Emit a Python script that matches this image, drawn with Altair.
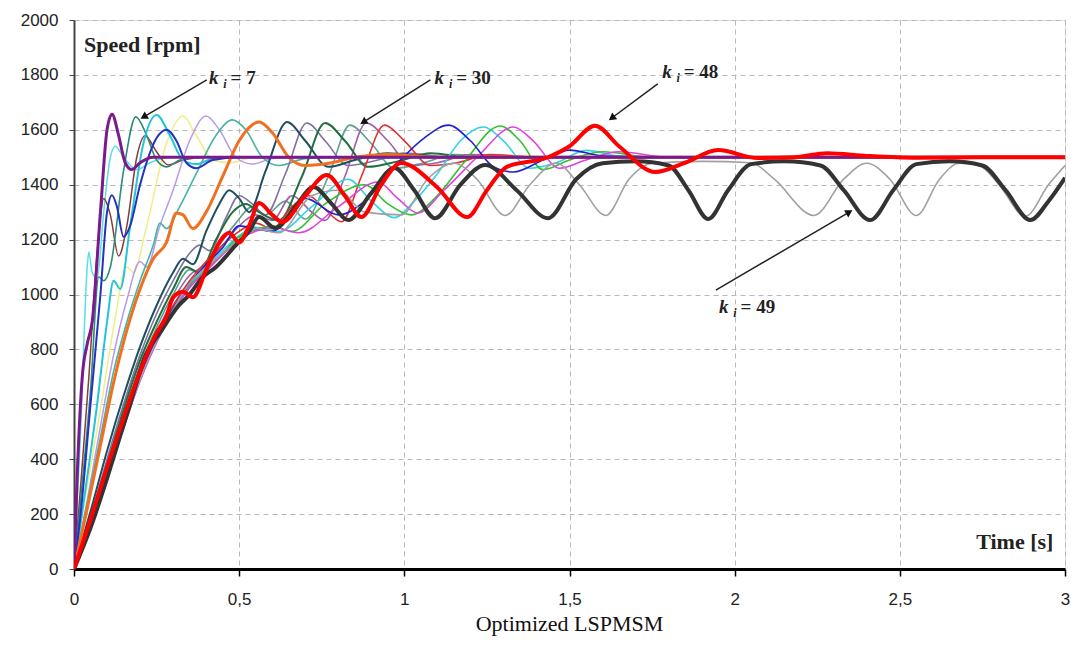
import math
import altair as alt
import pandas as pd

# ---------------- data ----------------
x_ticks = [0, 0.5, 1, 1.5, 2, 2.5, 3]
y_ticks = [0, 200, 400, 600, 800, 1000, 1200, 1400, 1600, 1800, 2000]

purple_t = [0, 0.01, 0.025, 0.04, 0.055, 0.08, 0.1, 0.115, 0.135, 0.155, 0.175, 0.2, 0.24, 3]
purple_v = [0, 350, 700, 820, 900, 1300, 1600, 1657, 1580, 1480, 1455, 1480, 1500, 1500]

brown_t = [0, 0.02, 0.045, 0.07, 0.09, 0.11, 0.135, 0.16, 0.19, 0.215, 0.25, 0.285, 0.33, 0.4, 3]
brown_v = [0, 300, 700, 1150, 1350, 1290, 1140, 1250, 1500, 1578, 1520, 1472, 1490, 1500, 1500]

lcyan_t = [0, 0.02, 0.04, 0.045, 0.055, 0.07, 0.09, 0.11, 0.125, 0.15, 0.19, 0.23, 0.3, 3]
lcyan_v = [0, 500, 1100, 1155, 1080, 1060, 1300, 1500, 1540, 1500, 1455, 1480, 1500, 1500]

dteal_t = [0, 0.02, 0.05, 0.075, 0.09, 0.11, 0.15, 0.187, 0.22, 0.25, 0.28, 0.32, 0.38, 3]
dteal_v = [0, 250, 650, 1064, 1050, 1100, 1450, 1647, 1580, 1490, 1465, 1490, 1500, 1500]

rblue_t = [0, 0.02, 0.05, 0.08, 0.1, 0.115, 0.13, 0.15, 0.17, 0.2, 0.25, 0.28, 0.31, 0.34, 0.37, 0.42, 0.5, 3]
rblue_v = [0, 200, 600, 1000, 1300, 1362, 1320, 1210, 1250, 1400, 1570, 1600, 1560, 1480, 1460, 1490, 1500, 1500]

cyan2_t = [0, 0.03, 0.07, 0.1, 0.12, 0.14, 0.17, 0.21, 0.25, 0.29, 0.33, 0.37, 0.42, 0.5, 3]
cyan2_v = [0, 250, 600, 900, 1050, 1020, 1250, 1550, 1654, 1580, 1490, 1475, 1495, 1500, 1500]

yellow_t = [0, 0.03, 0.08, 0.12, 0.16, 0.18, 0.22, 0.28, 0.33, 0.37, 0.42, 0.47, 0.55, 3]
yellow_v = [0, 230, 580, 880, 1100, 1080, 1250, 1550, 1650, 1580, 1490, 1480, 1500, 1500]

lav_t = [0, 0.04, 0.08, 0.12, 0.16, 0.2, 0.22, 0.26, 0.3, 0.35, 0.4, 0.44, 0.49, 0.54, 0.6, 0.7, 3]
lav_v = [0, 250, 520, 780, 980, 1120, 1100, 1250, 1380, 1560, 1650, 1600, 1500, 1475, 1495, 1500, 1500]

teal_t = [0, 0.04, 0.08, 0.12, 0.16, 0.2, 0.24, 0.26, 0.28, 0.32, 0.37, 0.43, 0.48, 0.52, 0.57, 0.62, 0.7, 0.8, 3]
teal_v = [0, 240, 480, 720, 900, 1050, 1180, 1260, 1240, 1320, 1440, 1580, 1636, 1600, 1500, 1470, 1495, 1500, 1500]

orange_t = [0, 0.04, 0.08, 0.12, 0.16, 0.2, 0.24, 0.28, 0.31, 0.33, 0.36, 0.4, 0.45, 0.5, 0.56, 0.6, 0.65, 0.7, 0.78, 0.85, 0.95, 1.1, 3]
orange_v = [0, 220, 450, 680, 870, 1020, 1130, 1190, 1297, 1290, 1240, 1300, 1430, 1560, 1628, 1590, 1500, 1470, 1480, 1500, 1510, 1500, 1500]

slate_t = [0, 0.05, 0.1, 0.15, 0.2, 0.25, 0.3, 0.33, 0.36, 0.4, 0.44, 0.47, 0.5, 0.53, 0.58, 0.645, 0.7, 0.77, 0.85, 0.95, 1.1, 3]
slate_v = [0, 210, 430, 630, 810, 960, 1080, 1130, 1110, 1230, 1330, 1380, 1350, 1300, 1450, 1628, 1560, 1465, 1490, 1515, 1500, 1500]

gpurp_t = [0, 0.05, 0.1, 0.15, 0.2, 0.25, 0.3, 0.35, 0.38, 0.41, 0.46, 0.5, 0.54, 0.58, 0.64, 0.705, 0.76, 0.83, 0.92, 1.0, 1.15, 3]
gpurp_v = [0, 190, 400, 600, 780, 930, 1050, 1150, 1180, 1160, 1280, 1360, 1330, 1290, 1440, 1625, 1560, 1470, 1490, 1515, 1500, 1500]

dgreen_t = [0, 0.05, 0.1, 0.15, 0.2, 0.25, 0.3, 0.34, 0.38, 0.43, 0.48, 0.52, 0.56, 0.62, 0.69, 0.76, 0.82, 0.89, 0.98, 1.08, 1.2, 3]
dgreen_v = [0, 180, 380, 580, 760, 900, 1020, 1100, 1080, 1200, 1300, 1330, 1300, 1270, 1430, 1625, 1560, 1465, 1485, 1515, 1500, 1500]

ggreen_t = [0, 0.05, 0.1, 0.15, 0.2, 0.25, 0.3, 0.35, 0.39, 0.44, 0.49, 0.54, 0.58, 0.64, 0.7, 0.77, 0.835, 0.9, 0.97, 1.06, 1.15, 1.3, 3]
ggreen_v = [0, 175, 370, 560, 740, 880, 1000, 1090, 1070, 1180, 1260, 1320, 1290, 1340, 1275, 1430, 1617, 1550, 1460, 1480, 1510, 1500, 1500]

mauve_t = [0, 0.05, 0.1, 0.15, 0.2, 0.25, 0.3, 0.35, 0.4, 0.45, 0.5, 0.55, 0.6, 0.66, 0.72, 0.76, 0.82, 0.885, 0.95, 1.02, 1.1, 1.2, 1.35, 3]
mauve_v = [0, 170, 360, 550, 720, 860, 980, 1070, 1110, 1180, 1250, 1290, 1270, 1360, 1300, 1270, 1430, 1625, 1560, 1470, 1480, 1510, 1500, 1500]

redthin_t = [0, 0.05, 0.1, 0.15, 0.2, 0.25, 0.3, 0.35, 0.4, 0.45, 0.5, 0.55, 0.6, 0.66, 0.71, 0.76, 0.81, 0.87, 0.94, 1.0, 1.08, 1.16, 1.26, 1.4, 3]
redthin_v = [0, 165, 350, 540, 710, 850, 960, 1050, 1120, 1180, 1230, 1260, 1240, 1320, 1360, 1310, 1265, 1430, 1617, 1560, 1470, 1480, 1510, 1500, 1500]

blue_t = [0, 0.05, 0.1, 0.15, 0.2, 0.25, 0.3, 0.35, 0.4, 0.45, 0.5, 0.55, 0.6, 0.7, 0.8, 0.88, 0.98, 1.06, 1.133, 1.2, 1.27, 1.33, 1.42, 1.5, 1.6, 1.75, 3]
blue_v = [0, 160, 345, 530, 700, 840, 950, 1040, 1110, 1170, 1250, 1240, 1230, 1350, 1290, 1340, 1480, 1570, 1617, 1560, 1465, 1446, 1490, 1526, 1505, 1500, 1500]

cyan3_t = [0, 0.05, 0.1, 0.15, 0.2, 0.25, 0.3, 0.35, 0.4, 0.45, 0.5, 0.55, 0.62, 0.72, 0.83, 0.9, 0.97, 1.03, 1.1, 1.17, 1.24, 1.3, 1.38, 1.46, 1.55, 1.65, 1.8, 3]
cyan3_v = [0, 160, 340, 525, 695, 835, 945, 1035, 1100, 1160, 1215, 1245, 1230, 1320, 1420, 1340, 1280, 1340, 1440, 1560, 1610, 1560, 1460, 1480, 1525, 1505, 1500, 1500]

green_t = [0, 0.05, 0.1, 0.15, 0.2, 0.25, 0.3, 0.35, 0.4, 0.45, 0.5, 0.55, 0.6, 0.66, 0.76, 0.88, 0.95, 1.02, 1.1, 1.18, 1.29, 1.35, 1.42, 1.5, 1.6, 1.75, 3]
green_v = [0, 158, 338, 520, 690, 830, 940, 1030, 1090, 1150, 1210, 1235, 1250, 1230, 1330, 1400, 1330, 1290, 1360, 1480, 1614, 1560, 1455, 1490, 1520, 1500, 1500]

magenta_t = [0, 0.05, 0.1, 0.15, 0.2, 0.25, 0.3, 0.35, 0.4, 0.45, 0.5, 0.55, 0.6, 0.68, 0.8, 0.92, 0.98, 1.04, 1.12, 1.22, 1.33, 1.39, 1.47, 1.55, 1.65, 1.8, 3]
magenta_v = [0, 155, 335, 515, 685, 825, 935, 1025, 1085, 1145, 1200, 1230, 1245, 1225, 1320, 1410, 1350, 1297, 1380, 1500, 1610, 1560, 1460, 1490, 1520, 1500, 1500]

gray_t = [0, 0.05, 0.1, 0.15, 0.2, 0.25, 0.3, 0.35, 0.4, 0.45, 0.5, 0.55, 0.62, 0.72, 0.8, 0.88, 0.99, 1.07, 1.15, 1.22, 1.305, 1.38, 1.46, 1.53, 1.61, 1.68, 1.75, 1.9, 2.05, 2.12, 2.24, 2.33, 2.4, 2.47, 2.55, 2.62, 2.68, 2.74, 2.8, 2.88, 2.95, 3.0]
gray_v = [0, 150, 335, 515, 690, 830, 945, 1040, 1100, 1150, 1200, 1240, 1225, 1360, 1380, 1300, 1290, 1420, 1478, 1420, 1288, 1400, 1478, 1400, 1288, 1420, 1478, 1485, 1480, 1420, 1288, 1420, 1478, 1420, 1288, 1420, 1478, 1470, 1400, 1285, 1400, 1470]

black_t = [0, 0.05, 0.1, 0.136, 0.17, 0.217, 0.26, 0.317, 0.35, 0.387, 0.43, 0.49, 0.53, 0.56, 0.61, 0.67, 0.725, 0.78, 0.83, 0.9, 0.97, 1.03, 1.093, 1.17, 1.245, 1.34, 1.435, 1.52, 1.6, 1.7, 1.8, 1.86, 1.92, 1.98, 2.05, 2.15, 2.26, 2.33, 2.41, 2.48, 2.55, 2.65, 2.75, 2.82, 2.895, 2.95, 3.0]
black_v = [0, 150, 330, 470, 600, 780, 860, 960, 1000, 1060, 1100, 1180, 1230, 1282, 1242, 1320, 1392, 1330, 1271, 1370, 1461, 1380, 1278, 1400, 1472, 1380, 1278, 1420, 1478, 1485, 1470, 1380, 1275, 1380, 1475, 1485, 1470, 1380, 1271, 1380, 1475, 1485, 1470, 1380, 1271, 1340, 1425]

red_t = [0, 0.05, 0.1, 0.15, 0.2, 0.25, 0.28, 0.3, 0.33, 0.36, 0.4, 0.44, 0.47, 0.5, 0.53, 0.56, 0.6, 0.63, 0.7, 0.765, 0.82, 0.87, 0.93, 0.99, 1.1, 1.19, 1.25, 1.31, 1.435, 1.5, 1.577, 1.65, 1.76, 1.85, 1.95, 2.07, 2.18, 2.28, 2.4, 2.55, 2.75, 3.0]
red_v = [0, 180, 370, 550, 720, 860, 920, 990, 1010, 990, 1090, 1190, 1225, 1190, 1250, 1333, 1290, 1264, 1360, 1435, 1360, 1282, 1400, 1479, 1390, 1282, 1380, 1465, 1500, 1540, 1615, 1540, 1446, 1480, 1526, 1497, 1500, 1515, 1505, 1498, 1500, 1500]

# annotations (data units)
ann_k_t = [0.423, 1.106, 1.795, 1.967]
ann_k_v = [1789, 1789, 1811, 954]
ann_i_t = [0.457, 1.140, 1.829, 2.001]
ann_i_v = [1767, 1767, 1789, 932]
ann_eq_t = [0.474, 1.157, 1.846, 2.018]
ann_eq_text = ["= 7", "= 30", "= 48", "= 49"]
arrow_tail_t = [0.402, 1.079, 1.767, 1.943]
arrow_tail_v = [1782, 1782, 1767, 1016]
arrow_head_t = [0.211, 0.876, 1.628, 2.347]
arrow_head_v = [1647, 1628, 1643, 1300]

# ---------------- styling ----------------
W, H = 991, 549
XMAX, YMAX = 3.0, 2000.0

series = [
    (yellow_t, yellow_v, "#EEEE88", 1.5),
    (lcyan_t, lcyan_v, "#55E0E8", 1.5),
    (lav_t, lav_v, "#B89AE6", 1.5),
    (brown_t, brown_v, "#8B3A3A", 1.5),
    (dteal_t, dteal_v, "#2E8B7A", 1.6),
    (cyan2_t, cyan2_v, "#22C4D6", 2),
    (teal_t, teal_v, "#45B4A4", 1.6),
    (rblue_t, rblue_v, "#2233C0", 2),
    (ggreen_t, ggreen_v, "#5FA08F", 1.6),
    (gpurp_t, gpurp_v, "#8070A0", 1.6),
    (mauve_t, mauve_v, "#A060A8", 1.6),
    (slate_t, slate_v, "#1F4F5F", 2),
    (dgreen_t, dgreen_v, "#1F6F3F", 2),
    (redthin_t, redthin_v, "#E03030", 1.6),
    (cyan3_t, cyan3_v, "#30D4E4", 1.6),
    (green_t, green_v, "#30C030", 1.6),
    (magenta_t, magenta_v, "#E040E0", 1.6),
    (blue_t, blue_v, "#2020D0", 1.6),
    (gray_t, gray_v, "#A0A0A0", 1.6),
    (orange_t, orange_v, "#F07020", 3),
    (purple_t, purple_v, "#7B1A8C", 3),
    (black_t, black_v, "#333333", 4),
    (red_t, red_v, "#FF0000", 4),
]

xs = alt.Scale(domain=[0, XMAX], nice=False, zero=False)
ys = alt.Scale(domain=[0, YMAX], nice=False, zero=False)

LABEL_FONT = "Liberation Sans Narrow, Liberation Sans, Arial"
SERIF = "Liberation Serif, Times New Roman"

x_axis = alt.Axis(values=x_ticks, format="~g", labelExpr="replace(datum.label, '.', ',')",
                  title=None, grid=True, gridDash=[5, 4], gridColor="#B8B8B8", gridWidth=1,
                  domainColor="black", domainWidth=3, tickColor="black", tickSize=7, tickWidth=1.5,
                  labelFlush=False, labelOverlap=False,
                  labelFont=LABEL_FONT, labelFontSize=17, labelPadding=15, labelColor="#222222")
y_axis = alt.Axis(values=y_ticks, format="d", title=None, grid=True, gridDash=[5, 4],
                  gridColor="#B8B8B8", gridWidth=1, domainColor="#444444", domainWidth=2,
                  tickColor="#444444", tickSize=5, labelPadding=11, labelFlush=False, labelOverlap=False,
                  labelFont=LABEL_FONT, labelFontSize=17, labelColor="#222222")

layers = []
for i, (t, v, color, w) in enumerate(series):
    df = pd.DataFrame({"t": t, "v": v})
    layers.append(
        alt.Chart(df).mark_line(color=color, strokeWidth=w, interpolate="monotone", clip=True)
        .encode(x=alt.X("t:Q", scale=xs, axis=x_axis), y=alt.Y("v:Q", scale=ys, axis=y_axis))
    )

# arrows
arr = pd.DataFrame({"t": arrow_tail_t, "v": arrow_tail_v, "t2": arrow_head_t, "v2": arrow_head_v})
angles = []
for a, b, c, d in zip(arrow_tail_t, arrow_tail_v, arrow_head_t, arrow_head_v):
    dx = (c - a) / XMAX * W
    dy = -(d - b) / YMAX * H
    ang = math.degrees(math.atan2(dx, -dy)) % 360
    angles.append(ang)
arr["ang"] = angles

arrow_lines = alt.Chart(arr).mark_rule(color="#222222", strokeWidth=1.5).encode(
    x=alt.X("t:Q", scale=xs), y=alt.Y("v:Q", scale=ys), x2="t2:Q", y2="v2:Q")
arrow_heads = alt.Chart(arr).mark_point(shape="triangle-up", filled=True, color="#111111",
                                        size=70, opacity=1).encode(
    x=alt.X("t2:Q", scale=xs), y=alt.Y("v2:Q", scale=ys), angle=alt.Angle("ang:Q", scale=None))

k_df = pd.DataFrame({"t": ann_k_t, "v": ann_k_v, "s": ["k"] * 4})
i_df = pd.DataFrame({"t": ann_i_t, "v": ann_i_v, "s": ["i"] * 4})
eq_df = pd.DataFrame({"t": ann_eq_t, "v": ann_k_v, "s": ann_eq_text})

k_text = alt.Chart(k_df).mark_text(font=SERIF, fontSize=19, fontStyle="italic", fontWeight="bold",
                                   color="#222222").encode(
    x=alt.X("t:Q", scale=xs), y=alt.Y("v:Q", scale=ys), text="s:N")
i_text = alt.Chart(i_df).mark_text(font=SERIF, fontSize=12, fontStyle="italic", fontWeight="bold",
                                   color="#222222").encode(
    x=alt.X("t:Q", scale=xs), y=alt.Y("v:Q", scale=ys), text="s:N")
eq_text = alt.Chart(eq_df).mark_text(font=SERIF, fontSize=19, fontWeight="bold", align="left",
                                     color="#222222").encode(
    x=alt.X("t:Q", scale=xs), y=alt.Y("v:Q", scale=ys), text="s:N")

titles_df = pd.DataFrame({"t": [0.030], "v": [1909], "s": ["Speed [rpm]"]})
speed_text = alt.Chart(titles_df).mark_text(font=SERIF, fontSize=22, fontWeight="bold", align="left",
                                            color="#222222").encode(
    x=alt.X("t:Q", scale=xs), y=alt.Y("v:Q", scale=ys), text="s:N")
time_df = pd.DataFrame({"t": [2.965], "v": [98], "s": ["Time [s]"]})
time_text = alt.Chart(time_df).mark_text(font=SERIF, fontSize=22, fontWeight="bold", align="right",
                                         color="#222222").encode(
    x=alt.X("t:Q", scale=xs), y=alt.Y("v:Q", scale=ys), text="s:N")

chart = alt.layer(*layers, arrow_lines, arrow_heads, k_text, i_text, eq_text, speed_text, time_text).properties(
    width=W, height=H,
    autosize=alt.AutoSizeParams(type="none"),
    padding={"left": 66, "top": 12, "right": 6, "bottom": 68},
    title=alt.TitleParams("Optimized LSPMSM", orient="bottom", font=SERIF, fontSize=22,
                          fontWeight="normal", color="#111111", offset=7, anchor="middle"),
).configure_view(stroke="#666666", strokeWidth=1.8).configure(background="white")

chart.save("out.html", embed_options={"renderer": "svg", "actions": False})
